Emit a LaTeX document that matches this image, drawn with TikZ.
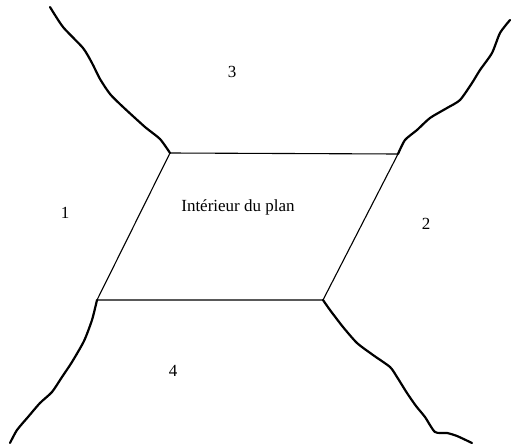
\documentclass[tikz,border=0pt]{standalone}
\usepackage{fontspec}
\setmainfont{Liberation Serif}
\usetikzlibrary{positioning}

\begin{document}
\begin{tikzpicture}[x=1pt,y=-1pt,font=\fontsize{17}{20}\selectfont,
    edge/.style={line width=1.1pt},
    crack/.style={line width=2.2pt,line cap=round,line join=round}]
  \useasboundingbox (0,0) rectangle (511,447);

  % interior of the plan
  \coordinate (tl) at (170,153);
  \coordinate (tr) at (398,154);
  \coordinate (br) at (323,300);
  \coordinate (bl) at (97,300);
  \draw[edge] (tl) -- (tr) -- (br) -- (bl) -- cycle;

  % cracks leaving the corners
  \draw[crack] plot[smooth,tension=.4] coordinates {(tl) (160,139) (145,127)
    (122,106) (110,94) (100,79) (92,63) (83,48) (63,27) (50,7)};
  \draw[crack] plot[smooth,tension=.4] coordinates {(tr) (405,140) (417,130) (430,118)
    (447,108) (460,100) (472,83) (480,70) (492,53) (500,33) (510,20)};
  \draw[crack] plot[smooth,tension=.4] coordinates {(bl) (92,320) (84,341)
    (72,362) (62,377) (52,392) (40,403) (28,417) (17,430) (10,443)};
  \draw[crack] plot[smooth,tension=.4] coordinates {(br) (330,310) (343,327) (357,343)
    (373,355) (390,367) (397,377) (407,393) (416,406) (425,417) (435,432)
    (447,433) (457,436) (472,443)};

  % zones
  \node (plan) at (238,207) {Intérieur du plan};
  \node (zone1) at (65,213) {1};
  \node (zone2) at (426,224) {2};
  \node (zone3) at (232,72) {3};
  \node (zone4) at (173,371) {4};
\end{tikzpicture}
\end{document}
